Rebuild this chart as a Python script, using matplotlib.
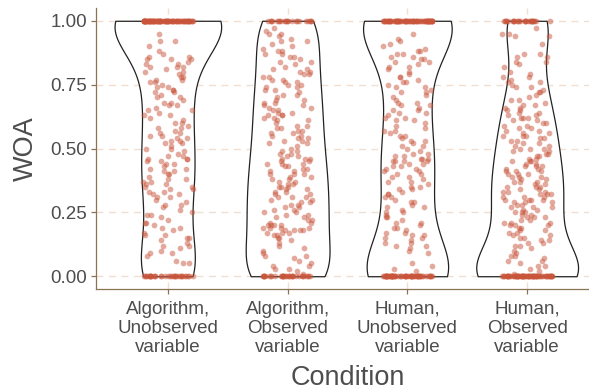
import numpy as np
import matplotlib
matplotlib.use("Agg")
import matplotlib.pyplot as plt

plt.rcParams['font.family'] = ['Liberation Sans', 'DejaVu Sans']

# condition labels (x axis)
conditions = ["Algorithm,\nUnobserved\nvariable", "Algorithm,\nObserved\nvariable",
              "Human,\nUnobserved\nvariable", "Human,\nObserved\nvariable"]

# WOA values, one list per condition
woa_alg_unobs = [1.0] * 90 + [0.0] * 34 + [
    0.95, 0.92, 0.92, 0.90,
    0.88, 0.87, 0.86, 0.86, 0.85, 0.85, 0.85, 0.84, 0.83, 0.83, 0.82, 0.82, 0.82, 0.81, 0.80,
    0.80, 0.79, 0.78, 0.78, 0.77, 0.77, 0.76, 0.76, 0.75, 0.74, 0.74, 0.73, 0.73, 0.72, 0.72, 0.71, 0.70, 0.70,
    0.69, 0.68, 0.68, 0.67, 0.67, 0.66, 0.65, 0.65, 0.64, 0.63, 0.63, 0.62, 0.61, 0.60, 0.60,
    0.59, 0.58, 0.58, 0.57, 0.56, 0.56, 0.55, 0.55, 0.54, 0.54, 0.53, 0.53, 0.52, 0.52, 0.51, 0.50, 0.50,
    0.49, 0.48, 0.47, 0.47, 0.46, 0.46, 0.46, 0.45, 0.45, 0.44, 0.44, 0.43, 0.42,
    0.42, 0.41, 0.41, 0.40, 0.40,
    0.39, 0.38, 0.38, 0.37, 0.37, 0.36, 0.36, 0.35, 0.35, 0.34, 0.34, 0.33, 0.33, 0.32, 0.32, 0.31, 0.31, 0.30,
    0.29, 0.28, 0.28, 0.27, 0.26, 0.25, 0.24, 0.24, 0.23, 0.22, 0.21, 0.21, 0.20,
    0.19, 0.19, 0.18, 0.17, 0.16, 0.16, 0.15, 0.15, 0.14, 0.13, 0.12, 0.12, 0.11, 0.10,
    0.09, 0.09, 0.08, 0.06, 0.05, 0.05]

woa_alg_obs = [1.0] * 22 + [0.0] * 35 + [
    0.97, 0.96, 0.95, 0.95, 0.94, 0.93, 0.92, 0.92, 0.91, 0.90,
    0.89, 0.88, 0.88, 0.87, 0.87, 0.86, 0.86, 0.85, 0.84, 0.84, 0.83, 0.82, 0.81, 0.81, 0.80,
    0.80, 0.79, 0.79, 0.78, 0.78, 0.77, 0.77, 0.76, 0.76, 0.75, 0.75, 0.74, 0.74, 0.73, 0.73,
    0.72, 0.71, 0.71, 0.70,
    0.69, 0.69, 0.68, 0.68, 0.67, 0.67, 0.66, 0.66, 0.65, 0.65, 0.64, 0.64, 0.63, 0.63, 0.63,
    0.62, 0.62, 0.61, 0.61, 0.60,
    0.59, 0.59, 0.58, 0.58, 0.57, 0.57, 0.56, 0.56, 0.55, 0.55, 0.54, 0.54, 0.53, 0.53, 0.52, 0.52,
    0.51, 0.50,
    0.49, 0.49, 0.48, 0.48, 0.47, 0.47, 0.46, 0.46, 0.46, 0.45, 0.45, 0.44, 0.44, 0.44, 0.43,
    0.43, 0.42, 0.42, 0.41, 0.41, 0.40, 0.40, 0.40,
    0.39, 0.39, 0.38, 0.38, 0.37, 0.37, 0.36, 0.36, 0.35, 0.35, 0.35, 0.34, 0.34, 0.33, 0.33, 0.32,
    0.32, 0.31, 0.31, 0.31, 0.30, 0.30,
    0.29, 0.29, 0.28, 0.28, 0.27, 0.27, 0.26, 0.26, 0.25, 0.25, 0.24, 0.24, 0.23, 0.23, 0.22, 0.22,
    0.21, 0.21, 0.20, 0.20,
    0.20, 0.20, 0.19, 0.19, 0.19, 0.19, 0.18, 0.18, 0.18, 0.18, 0.17, 0.17, 0.17, 0.16, 0.16, 0.15,
    0.15, 0.14, 0.13, 0.12, 0.11, 0.10,
    0.09, 0.08, 0.08, 0.07, 0.06, 0.05, 0.04, 0.04, 0.03, 0.03, 0.02, 0.01]

woa_hum_unobs = [1.0] * 75 + [0.0] * 66 + [
    0.95, 0.93, 0.92, 0.91,
    0.90, 0.89, 0.88, 0.88, 0.87, 0.87, 0.86, 0.86, 0.85, 0.85, 0.84, 0.84, 0.83, 0.82, 0.82, 0.81, 0.80,
    0.79, 0.78, 0.78, 0.77, 0.76, 0.76, 0.75, 0.74, 0.74, 0.73, 0.72, 0.72, 0.71, 0.70,
    0.69, 0.68, 0.68, 0.67, 0.67, 0.66, 0.65, 0.65, 0.64, 0.64, 0.63, 0.62, 0.62, 0.61, 0.61, 0.60,
    0.59, 0.58, 0.57, 0.57, 0.56, 0.55, 0.55, 0.54, 0.53, 0.53, 0.52, 0.51, 0.51, 0.50,
    0.49, 0.48, 0.48, 0.47, 0.47, 0.46, 0.46, 0.46, 0.45, 0.45, 0.45, 0.45, 0.44, 0.44, 0.43, 0.43,
    0.42, 0.42, 0.41, 0.41, 0.40, 0.40,
    0.39, 0.39, 0.38, 0.37, 0.37, 0.36, 0.35, 0.35, 0.34, 0.34, 0.33, 0.32, 0.32, 0.31, 0.31, 0.30,
    0.29, 0.29, 0.28, 0.27, 0.27, 0.26, 0.25, 0.25, 0.24, 0.23, 0.23, 0.22, 0.21, 0.21, 0.20,
    0.19, 0.19, 0.18, 0.17, 0.17, 0.16, 0.16, 0.15, 0.15, 0.14, 0.13, 0.13, 0.12, 0.12, 0.11, 0.10,
    0.09, 0.05, 0.04, 0.03, 0.02]

woa_hum_obs = [1.0] * 28 + [0.0] * 75 + [
    0.97, 0.95, 0.95, 0.94, 0.94, 0.91,
    0.87, 0.87, 0.86, 0.86, 0.84, 0.84, 0.83, 0.82,
    0.80, 0.79, 0.78, 0.78, 0.77, 0.76, 0.76, 0.75, 0.74, 0.74, 0.73, 0.72, 0.72, 0.71, 0.70,
    0.69, 0.69, 0.68, 0.67, 0.67, 0.66, 0.66, 0.65, 0.65, 0.64, 0.64, 0.63, 0.63,
    0.62, 0.62, 0.62, 0.61, 0.61, 0.60, 0.60,
    0.59, 0.59, 0.58, 0.58, 0.57, 0.57, 0.56, 0.56, 0.55, 0.55, 0.55, 0.54, 0.54, 0.53, 0.53, 0.52,
    0.52, 0.51, 0.51, 0.50, 0.50, 0.50,
    0.49, 0.49, 0.48, 0.48, 0.47, 0.47, 0.46, 0.46, 0.45, 0.45, 0.45, 0.44, 0.44, 0.43, 0.43, 0.43,
    0.42, 0.42, 0.41, 0.41, 0.41, 0.40, 0.40, 0.40,
    0.39, 0.39, 0.39, 0.38, 0.38, 0.37, 0.37, 0.37, 0.36, 0.36, 0.35, 0.35, 0.35, 0.34, 0.34, 0.33,
    0.33, 0.33, 0.32, 0.32, 0.32, 0.31, 0.31, 0.31, 0.30, 0.30, 0.30, 0.30,
    0.29, 0.29, 0.29, 0.28, 0.28, 0.27, 0.27, 0.27, 0.26, 0.26, 0.25, 0.25, 0.25, 0.24, 0.24, 0.23,
    0.23, 0.23, 0.22, 0.22, 0.21, 0.21, 0.21, 0.20, 0.20, 0.20,
    0.19, 0.19, 0.18, 0.18, 0.17, 0.17, 0.16, 0.16, 0.15, 0.15, 0.14, 0.14, 0.13, 0.13, 0.12, 0.12, 0.11, 0.10,
    0.09, 0.08, 0.08, 0.07, 0.06, 0.06, 0.05, 0.04, 0.04, 0.03, 0.02, 0.01]

yticks = [0.0, 0.25, 0.5, 0.75, 1.0]
ytick_labels = ["0.00", "0.25", "0.50", "0.75", "1.00"]

groups = [woa_alg_unobs, woa_alg_obs, woa_hum_unobs, woa_hum_obs]
positions = np.arange(1, len(groups) + 1)

point_color = "#C9553B"
axis_color = "#8B7355"
grid_color = "#F0DFD0"
text_color = "#4D4D4D"


# ggplot-like bandwidth (bw.nrd0), a little wider
def nrd0(kde):
    d = kde.dataset.ravel()
    sd = d.std(ddof=1)
    iqr = np.subtract(*np.percentile(d, [75, 25]))
    lo = min(sd, iqr / 1.34) if iqr > 0 else sd
    return 1.1 * 0.9 * lo * len(d) ** -0.2 / sd


fig = plt.figure(figsize=(5.89, 3.90), dpi=100)
ax = fig.add_axes([96 / 589, 101 / 390, 503 / 589, 281 / 390])

# grid
for y in yticks:
    ax.axhline(y, color=grid_color, lw=1.0, ls=(0, (5, 4)), zorder=0)
for x in positions:
    ax.axvline(x, color=grid_color, lw=1.0, ls=(0, (5, 4)), zorder=0)

# violins
parts = ax.violinplot(groups, positions=positions, widths=[0.89, 0.70, 0.74, 0.85],
                      bw_method=nrd0, showextrema=False, points=200)
for body in parts['bodies']:
    body.set_facecolor('white')
    body.set_edgecolor('#222222')
    body.set_linewidth(0.9)
    body.set_alpha(1)
    body.set_zorder(2)

# jittered points
rng = np.random.default_rng(11)
for pos, vals in zip(positions, groups):
    vals = np.asarray(vals)
    xs = pos + rng.uniform(-0.21, 0.21, size=len(vals))
    ax.scatter(xs, vals, s=17, color=point_color, alpha=0.5, linewidths=0, zorder=3)

ax.set_xlim(0.4, 4.6)
ax.set_ylim(-0.05, 1.05)
ax.set_xticks(positions)
ax.set_xticklabels(conditions, fontsize=13.5, color=text_color, linespacing=1.15)
ax.set_yticks(yticks)
ax.set_yticklabels(ytick_labels, fontsize=13.5, color=text_color)

for side in ['top', 'right']:
    ax.spines[side].set_visible(False)
for side in ['left', 'bottom']:
    ax.spines[side].set_color(axis_color)
    ax.spines[side].set_linewidth(0.9)
ax.tick_params(axis='both', colors=axis_color, length=3.5, width=0.9, labelcolor=text_color)
ax.tick_params(axis='x', pad=5)
ax.tick_params(axis='y', pad=3)

ax.set_xlabel("Condition", fontsize=19.5, color=text_color, labelpad=7)
ax.set_ylabel("WOA", fontsize=19.5, color=text_color, labelpad=8)

fig.savefig("out.png", dpi=100)
